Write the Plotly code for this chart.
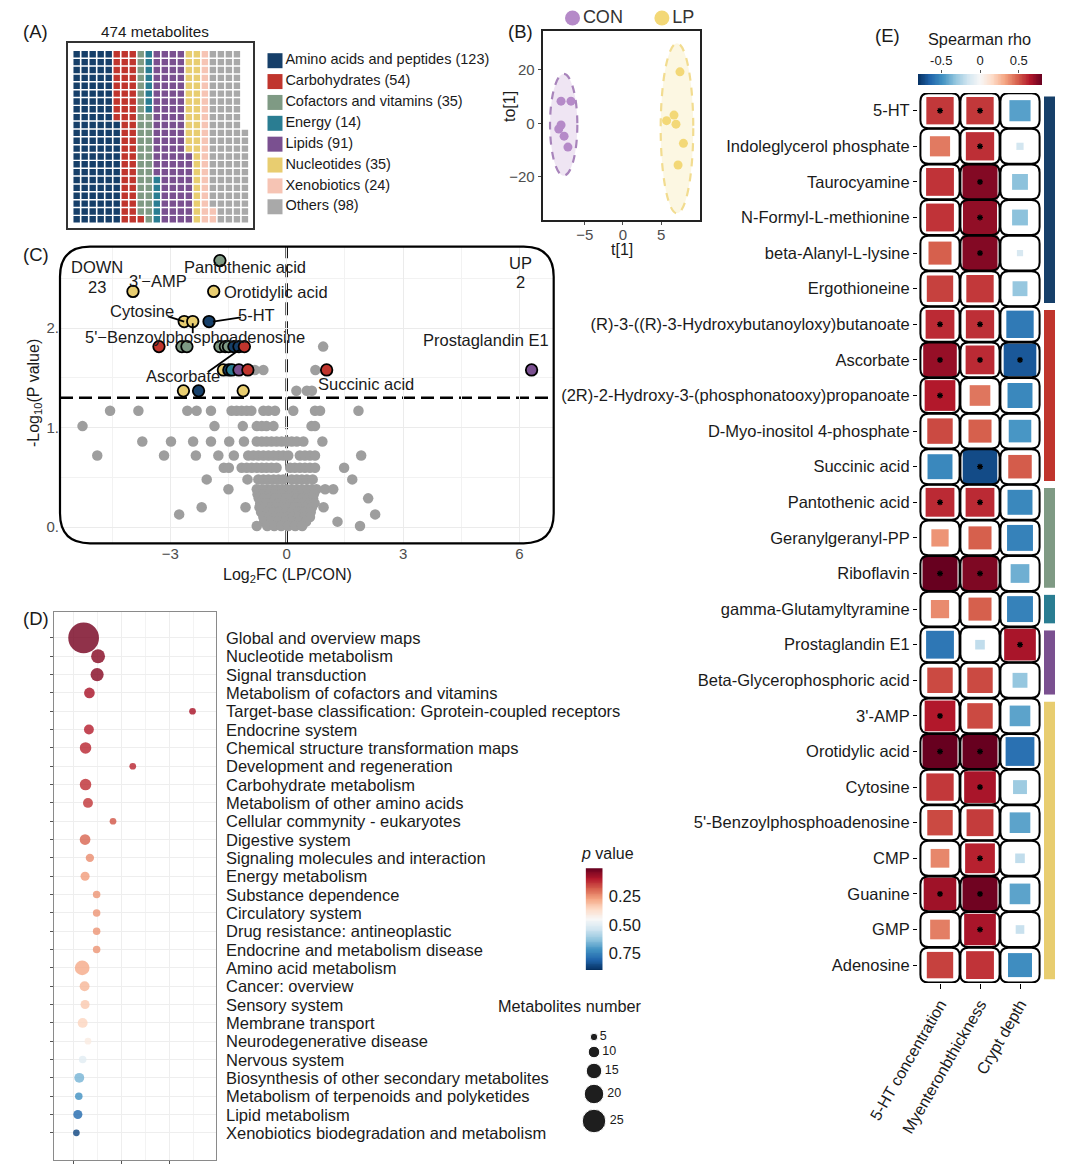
import numpy as np
import plotly.graph_objects as go

W, H = 1080, 1169
FONT = "Liberation Sans, Arial, Helvetica, sans-serif"
TXT = "#1a1a1a"
TICK = "#4d4d4d"


def fx(p):
    return p / W


def fy(p):
    return 1 - p / H


# ====================== DATA ======================
# Panel A: metabolite classes (waffle)
waffle_categories = ["Amino acids and peptides", "Carbohydrates", "Cofactors and vitamins", "Energy",
                     "Lipids", "Nucleotides", "Xenobiotics", "Others"]
waffle_counts = [123, 54, 35, 14, 91, 35, 24, 98]
waffle_colors = ["#163f69", "#c0352d", "#7f9a84", "#2a7d92", "#7a5090", "#e8cd70", "#f6c4b4", "#a9a9a9"]
waffle_total_label = "474 metabolites"

# Panel B: OPLS-DA scores
con_t = [-8.1, -6.8, -8.1, -8.4, -7.7, -7.2]
con_to = [8.3, 8.3, -0.6, -2.1, -4.8, -8.9]
lp_t = [7.45, 5.7, 6.67, 6.93, 7.9, 7.2]
lp_to = [19.3, 1.0, 3.1, -0.3, -7.5, -15.6]
con_ellipse = [-9.54, -5.97, -19.6, 18.5]   # t min, t max, to min, to max
lp_ellipse = [4.93, 9.19, -33.7, 30.0]

# Panel C: volcano plot
ns_levels = [1.815, 1.58, 1.37, 1.17, 1.015, 0.86, 0.72, 0.596, 0.479, 0.38, 0.33, 0.288, 0.24,
             0.198, 0.15, 0.127, 0.10, 0.054, 0.01]
ns_fc = [
    [0.94],
    [-0.82, -0.60, 0.74],
    [0.25, 0.52, 0.65],
    [-4.55, -3.82, -2.56, -2.32, -1.95, -1.42, -1.29, -1.16, -1.03, -0.91, -0.60, -0.47, -0.30, 0.17, 0.73, 0.86, 1.85],
    [-5.26, -1.86, -1.13, -0.77, -0.64, -0.52, -0.34, 0.64, 0.73],
    [-3.72, -2.98, -2.41, -1.95, -1.48, -1.10, -0.77, -0.64, -0.52, -0.39, -0.26, -0.13, 0.0, 0.13, 0.26, 0.43, 0.92],
    [-4.88, -3.16, -2.34, -1.76, -1.36, -0.99, -0.86, -0.73, -0.60, -0.47, -0.34, -0.21, -0.09, 0.04, 0.34, 0.47, 0.60, 0.73, 1.92],
    [-1.62, -1.49, -1.16, -1.03, -0.90, -0.77, -0.64, -0.52, -0.39, -0.26, 0.09, 0.21, 0.34, 0.47, 0.60, 0.73, 1.48],
    [-2.06, -1.01, -0.73, -0.60, -0.47, -0.34, -0.21, -0.09, 0.13, 0.26, 0.39, 0.52, 0.67, 1.69],
    [-1.50, -0.77, -0.64, -0.51, -0.38, -0.25, -0.12, 0.0, 0.13, 0.26, 0.39, 0.52, 0.65, 0.77, 0.99, 1.20],
    [-0.75, -0.60, -0.45, -0.30, -0.15, 0.10, 0.25, 0.40, 0.55, 0.70],
    [-0.72, -0.58, -0.44, -0.30, -0.16, -0.02, 0.12, 0.26, 0.40, 0.54, 0.68, 2.10],
    [-0.68, -0.52, -0.36, -0.20, -0.04, 0.12, 0.28, 0.44, 0.60, 0.72],
    [-2.19, -1.06, -0.70, -0.55, -0.40, -0.25, -0.10, 0.05, 0.20, 0.35, 0.50, 0.65, 0.95],
    [-0.66, -0.50, -0.34, -0.18, -0.02, 0.14, 0.30, 0.46, 0.62],
    [-2.77, 2.28],
    [-0.60, -0.45, -0.30, -0.15, 0.0, 0.15, 0.30, 0.45, 0.60],
    [-0.58, -0.40, -0.22, -0.04, 0.14, 0.32, 0.50, 1.31],
    [-0.77, -0.50, -0.32, -0.14, 0.04, 0.22, 0.40, 1.89],
]
sig_fc = [-1.72, -3.96, -1.88, -2.64, -2.42, -2.00, -3.29, -2.70, -2.57, -1.72, -1.58, -1.50, -1.36, -1.23,
          -1.09, -1.63, -1.49, -1.41, -1.23, -1.00, -2.66, -2.27, -1.12, 1.03, 6.31]
sig_logp = [2.68, 2.37, 2.37, 2.067, 2.067, 2.067, 1.815, 1.815, 1.815, 1.815, 1.815, 1.815, 1.815, 1.815,
            1.815, 1.58, 1.58, 1.58, 1.58, 1.58, 1.37, 1.37, 1.37, 1.58, 1.58]
sig_class = ["Cofactors and vitamins", "Nucleotides", "Nucleotides", "Nucleotides", "Nucleotides",
             "Amino acids and peptides", "Carbohydrates", "Cofactors and vitamins", "Cofactors and vitamins",
             "Cofactors and vitamins", "Cofactors and vitamins", "Cofactors and vitamins",
             "Amino acids and peptides", "Amino acids and peptides", "Carbohydrates", "Nucleotides",
             "Amino acids and peptides", "Energy", "Lipids", "Carbohydrates", "Nucleotides",
             "Amino acids and peptides", "Nucleotides", "Carbohydrates", "Lipids"]
p_threshold = 0.05
n_down, n_up = 23, 2

# Panel D: KEGG enrichment
kegg_pathways = ["Global and overview maps", "Nucleotide metabolism", "Signal transduction",
                 "Metabolism of cofactors and vitamins", "Target-base classification: Gprotein-coupled receptors",
                 "Endocrine system", "Chemical structure transformation maps", "Development and regeneration",
                 "Carbohydrate metabolism", "Metabolism of other amino acids", "Cellular commynity - eukaryotes",
                 "Digestive system", "Signaling molecules and interaction", "Energy metabolism",
                 "Substance dependence", "Circulatory system", "Drug resistance: antineoplastic",
                 "Endocrine and metabolism disease", "Amino acid metabolism", "Cancer: overview",
                 "Sensory system", "Membrane transport", "Neurodegenerative disease", "Nervous system",
                 "Biosynthesis of other secondary metabolites", "Metabolism of terpenoids and polyketides",
                 "Lipid metabolism", "Xenobiotics biodegradation and metabolism"]
kegg_ratio = [0.122, 0.152, 0.150, 0.134, 0.348, 0.133, 0.126, 0.224, 0.126, 0.131, 0.183, 0.125, 0.135, 0.125,
              0.149, 0.149, 0.149, 0.149, 0.119, 0.124, 0.125, 0.120, 0.131, 0.120, 0.113, 0.112, 0.110, 0.107]
kegg_count = [34, 13, 12, 9, 4, 8, 10, 4, 10, 8, 4, 9, 6, 7, 5, 5, 5, 5, 14, 8, 7, 8, 4, 5, 8, 5, 7, 4]
kegg_p = [0.02, 0.04, 0.04, 0.08, 0.08, 0.10, 0.11, 0.11, 0.12, 0.13, 0.17, 0.19, 0.24, 0.26, 0.25, 0.25, 0.25,
          0.25, 0.28, 0.30, 0.33, 0.35, 0.41, 0.50, 0.66, 0.72, 0.80, 0.86]
size_legend_counts = [5, 10, 15, 20, 25]
p_legend_ticks = [0.25, 0.50, 0.75]

# Panel E: Spearman correlation
corr_metabolites = ["5-HT", "Indoleglycerol phosphate", "Taurocyamine", "N-Formyl-L-methionine",
                    "beta-Alanyl-L-lysine", "Ergothioneine", "(R)-3-((R)-3-Hydroxybutanoyloxy)butanoate",
                    "Ascorbate", "(2R)-2-Hydroxy-3-(phosphonatooxy)propanoate", "D-Myo-inositol 4-phosphate",
                    "Succinic acid", "Pantothenic acid", "Geranylgeranyl-PP", "Riboflavin",
                    "gamma-Glutamyltyramine", "Prostaglandin E1", "Beta-Glycerophosphoric acid", "3'-AMP",
                    "Orotidylic acid", "Cytosine", "5'-Benzoylphosphoadenosine", "CMP", "Guanine", "GMP",
                    "Adenosine"]
corr_class = ["Amino acids and peptides"] * 6 + ["Carbohydrates"] * 5 + ["Cofactors and vitamins"] * 3 + \
             ["Energy"] + ["Lipids"] * 2 + ["Nucleotides"] * 8
corr_traits = ["5-HT concentration", "Myenteronbthickness", "Crypt depth"]
rho_5ht = [0.57, 0.42, 0.58, 0.58, 0.48, 0.55, 0.60, 0.70, 0.64, 0.53, -0.52, 0.60, 0.36, 0.80, 0.38,
           -0.58, 0.53, 0.64, 0.80, 0.57, 0.53, 0.39, 0.68, 0.41, 0.55]
rho_myent = [0.57, 0.59, 0.74, 0.71, 0.74, 0.57, 0.59, 0.60, 0.43, 0.48, -0.72, 0.60, 0.48, 0.75, 0.48,
             -0.20, 0.53, 0.53, 0.80, 0.66, 0.56, 0.62, 0.78, 0.66, 0.58]
rho_crypt = [-0.44, -0.15, -0.33, -0.33, -0.13, -0.31, -0.57, -0.68, -0.52, -0.47, 0.49, -0.52, -0.54, -0.39,
             -0.54, 0.66, -0.31, -0.43, -0.60, -0.29, -0.43, -0.20, -0.43, -0.18, -0.50]
sig_5ht = [1, 0, 0, 0, 0, 0, 1, 1, 1, 0, 0, 1, 0, 1, 0, 0, 0, 1, 1, 0, 0, 0, 1, 0, 0]
sig_myent = [1, 1, 1, 1, 1, 0, 1, 1, 0, 0, 1, 1, 0, 1, 0, 0, 0, 0, 1, 1, 0, 1, 1, 1, 0]
sig_crypt = [0, 0, 0, 0, 0, 0, 0, 1, 0, 0, 0, 0, 0, 0, 0, 1, 0, 0, 0, 0, 0, 0, 0, 0, 0]
rho_ticks = [-0.5, 0, 0.5]

# ====================== STYLE ======================
RDBU = ["#053061", "#2166ac", "#4393c3", "#92c5de", "#d1e5f0", "#f7f7f7",
        "#fddbc7", "#f4a582", "#d6604d", "#b2182b", "#67001f"]
CSCALE = [[i / 10, c] for i, c in enumerate(RDBU)]            # low = blue, high = red
CSCALE_P = [[i / 10, c] for i, c in enumerate(RDBU[::-1])]    # low p = red
class_color = dict(zip(waffle_categories, waffle_colors))

fig = go.Figure()
shapes = []
annotations = []


def ann(text, x, y, size=16.5, color=TXT, xanchor="center", yanchor="middle", xref="paper", yref="paper", **kw):
    annotations.append(dict(text=text, x=x, y=y, xref=xref, yref=yref, showarrow=False,
                            xanchor=xanchor, yanchor=yanchor, font=dict(family=FONT, size=size, color=color), **kw))


def rounded(x0, x1, y0, y1, rx, ry):
    return (f"M {x0 + rx},{y0} L {x1 - rx},{y0} Q {x1},{y0} {x1},{y0 + ry} "
            f"L {x1},{y1 - ry} Q {x1},{y1} {x1 - rx},{y1} L {x0 + rx},{y1} "
            f"Q {x0},{y1} {x0},{y1 - ry} L {x0},{y0 + ry} Q {x0},{y0} {x0 + rx},{y0} Z")


axis_common = dict(showgrid=False, zeroline=False, showticklabels=False, ticks="", fixedrange=True,
                   automargin=False)

# ---------------- Panel A ----------------
ROWS = 22
start = 0
for cat, n, col in zip(waffle_categories, waffle_counts, waffle_colors):
    idx = np.arange(start, start + n)
    start += n
    fig.add_trace(go.Scatter(x=idx // ROWS, y=idx % ROWS, mode="markers", xaxis="x", yaxis="y",
                             marker=dict(symbol="square", size=6.4, color=col, line=dict(width=0)),
                             showlegend=False, hoverinfo="skip"))
fig.update_layout(
    xaxis=dict(domain=[fx(67.7), fx(252.7)], range=[-1.12, 21.97], showline=True, mirror=True,
               linecolor="#333", linewidth=1.5, **axis_common),
    yaxis=dict(domain=[fy(228.3), fy(43.3)], range=[-1.145, 22.4], showline=True, mirror=True,
               linecolor="#333", linewidth=1.5, anchor="x", **axis_common),
)
ann(waffle_total_label, fx(155), fy(32), size=15.3)
leg_idx = list(range(len(waffle_categories)))
fig.add_trace(go.Scatter(x=[0] * len(leg_idx), y=leg_idx, mode="markers+text", xaxis="x6", yaxis="y6",
                         marker=dict(symbol="square", size=15, color=waffle_colors),
                         text=[f"{c} ({n})" for c, n in zip(waffle_categories, waffle_counts)],
                         textposition="middle right", textfont=dict(family=FONT, size=14.5, color=TXT),
                         showlegend=False, hoverinfo="skip", cliponaxis=False))
fig.update_layout(
    xaxis6=dict(domain=[fx(262), fx(520)], range=[-13, 245], anchor="y6", **axis_common),
    yaxis6=dict(domain=[fy(217), fy(50)], range=[7.49, -0.513], anchor="x6", **axis_common),
)

# ---------------- Panel B ----------------
CON_C, LP_C = "#b58ac8", "#f3d877"
for e, fill, line in [(con_ellipse, "rgba(181,138,200,0.22)", "#a884bb"),
                      (lp_ellipse, "rgba(245,222,140,0.25)", "#f2dc90")]:
    shapes.append(dict(type="circle", xref="x2", yref="y2", x0=e[0], x1=e[1], y0=e[2], y1=e[3],
                       fillcolor=fill, line=dict(color=line, width=2.2, dash="8px,7px"), layer="below"))
fig.add_trace(go.Scatter(x=con_t, y=con_to, mode="markers", xaxis="x2", yaxis="y2",
                         marker=dict(size=9, color=CON_C), showlegend=False, hoverinfo="skip"))
fig.add_trace(go.Scatter(x=lp_t, y=lp_to, mode="markers", xaxis="x2", yaxis="y2",
                         marker=dict(size=9, color=LP_C), showlegend=False, hoverinfo="skip"))
bax = dict(showgrid=False, zeroline=False, showline=True, mirror=True, linecolor="#222", linewidth=2,
           ticks="outside", ticklen=3, tickcolor=TICK, tickfont=dict(family=FONT, size=15, color=TICK),
           fixedrange=True, automargin=False)
fig.update_layout(
    xaxis2=dict(domain=[fx(542.7), fx(700)], range=[-10.5, 10.07], tickvals=[-5, 0, 5], anchor="y2",
                ticklabelstandoff=-3, **bax),
    yaxis2=dict(domain=[fy(220), fy(30.7)], range=[-36.2, 34.7], tickvals=[-20, 0, 20], anchor="x2", **bax),
)
ann("t[1]", fx(621.7), fy(250), size=16)
ann("to[1]", fx(510), fy(107), size=16, textangle=-90)
fig.add_trace(go.Scatter(x=[0, 1], y=[0, 0], mode="markers+text", xaxis="x7", yaxis="y7",
                         marker=dict(size=15, color=[CON_C, LP_C]), text=["CON", "LP"],
                         textposition="middle right", textfont=dict(family=FONT, size=18, color="#333"),
                         showlegend=False, hoverinfo="skip", cliponaxis=False))
fig.update_layout(
    xaxis7=dict(domain=[fx(560), fx(720)], range=[-0.14, 1.65], anchor="y7", **axis_common),
    yaxis7=dict(domain=[fy(28), fy(8)], range=[-1, 1], anchor="x7", **axis_common),
)

# ---------------- Panel C ----------------
gx = [x for lvl, xs in zip(ns_levels, ns_fc) for x in xs]
gy = [lvl for lvl, xs in zip(ns_levels, ns_fc) for x in xs]
fig.add_trace(go.Scatter(x=gx, y=gy, mode="markers", xaxis="x3", yaxis="y3",
                         marker=dict(size=10.5, color="#9e9e9e", line=dict(width=0)),
                         showlegend=False, hoverinfo="skip"))
thr = -np.log10(p_threshold)
shapes.append(dict(type="line", xref="x3", yref="y3", x0=-5.84, x1=6.88, y0=thr, y1=thr,
                   line=dict(color="black", width=2.5, dash="13px,6px"), layer="below"))
shapes.append(dict(type="line", xref="x3", yref="y3", x0=0, x1=0, y0=-0.164, y1=2.82,
                   line=dict(color="black", width=2.5, dash="13px,6px"), layer="below"))
fig.add_trace(go.Scatter(x=sig_fc, y=sig_logp, mode="markers", xaxis="x3", yaxis="y3",
                         marker=dict(size=11.5, color=[class_color[c] for c in sig_class],
                                     line=dict(width=1.8, color="black")),
                         showlegend=False, hoverinfo="skip"))
cax = dict(showgrid=True, gridcolor="#ebebeb", gridwidth=1.2, zeroline=False, showline=False,
           tickfont=dict(family=FONT, size=15, color=TICK), fixedrange=True, automargin=False)
fig.update_layout(
    xaxis3=dict(domain=[fx(60), fx(553.7)], range=[-5.84, 6.88], tickvals=[-3, 0, 3, 6], ticks="",
                minor=dict(tickvals=[-4.5, -1.5, 1.5, 4.5], showgrid=True, gridcolor="#f2f2f2", gridwidth=1),
                anchor="y3", **cax),
    yaxis3=dict(domain=[fy(543.3), fy(246.7)], range=[-0.164, 2.82], tickvals=[0, 1, 2],
                ticktext=["0.", "1.", "2."], ticks="", ticklabelstandoff=0,
                minor=dict(tickvals=[0.5, 1.5, 2.5], showgrid=True, gridcolor="#f2f2f2", gridwidth=1),
                anchor="x3", **cax),
)
x0, x1, y0, y1 = fx(60), fx(553.7), fy(543.3), fy(246.7)
shapes.append(dict(type="path", xref="paper", yref="paper", path=rounded(x0, x1, y0, y1, 30 / W, 30 / H),
                   line=dict(color="black", width=2.2), fillcolor="rgba(0,0,0,0)", layer="above"))
ann("-Log<sub>10</sub>(P value)", fx(34), fy(393), size=16, textangle=-90)
ann("Log<sub>2</sub>FC (LP/CON)", fx(287), fy(575), size=16)
ann("DOWN", -4.88, 2.62, xref="x3", yref="y3")
ann(str(n_down), -4.88, 2.41, xref="x3", yref="y3")
ann("UP", 6.03, 2.66, xref="x3", yref="y3")
ann(str(n_up), 6.03, 2.46, xref="x3", yref="y3")
ann("Pantothenic acid", -1.07, 2.62, xref="x3", yref="y3")
ann("3'\u2212AMP", -3.32, 2.47, xref="x3", yref="y3")
ann("Orotidylic acid", -1.66, 2.36, xref="x3", yref="y3", xanchor="left")
ann("Cytosine", -3.73, 2.17, xref="x3", yref="y3")
ann("5-HT", -0.78, 2.13, xref="x3", yref="y3")
ann("5'\u2212Benzoylphosphoadenosine", -2.35, 1.91, xref="x3", yref="y3")
ann("Ascorbate", -2.67, 1.52, xref="x3", yref="y3")
ann("Succinic acid", 2.04, 1.44, xref="x3", yref="y3")
ann("Prostaglandin E1", 5.13, 1.88, xref="x3", yref="y3")
for (ax0, ay0, ax1, ay1) in [(-3.06, 2.12, -2.64, 2.067), (-1.90, 2.067, -1.18, 2.11),
                             (-2.42, 2.05, -2.42, 1.95), (-2.03, 1.56, -1.23, 1.78)]:
    shapes.append(dict(type="line", xref="x3", yref="y3", x0=ax0, y0=ay0, x1=ax1, y1=ay1,
                       line=dict(color="black", width=1.8)))

# ---------------- Panel D ----------------
kegg_rows = list(range(len(kegg_pathways)))
kegg_sizes = [3.5 + 0.8 * n for n in kegg_count]
fig.add_trace(go.Scatter(
    x=kegg_ratio, y=kegg_rows, mode="markers", xaxis="x4", yaxis="y4",
    marker=dict(size=kegg_sizes, color=kegg_p, colorscale=CSCALE_P, cmin=0, cmax=0.9, showscale=False,
                opacity=0.82, line=dict(width=0)),
    showlegend=False, hoverinfo="skip"))
fig.update_layout(
    xaxis4=dict(domain=[fx(53.5), fx(216)], range=[0.0595, 0.3967], tickvals=[0.1, 0.2, 0.3],
                showticklabels=False, ticks="outside", ticklen=3, tickcolor="#555",
                showgrid=True, gridcolor="#eeeeee", gridwidth=1,
                minor=dict(tickvals=[0.15, 0.25, 0.35], showgrid=True, gridcolor="#f3f3f3"),
                showline=True, mirror=True, linecolor="#8a8a8a", linewidth=1, zeroline=False,
                anchor="y4", fixedrange=True, automargin=False),
    yaxis4=dict(domain=[fy(1160), fy(611.7)], range=[28.48, -1.43], tickvals=kegg_rows,
                showticklabels=False, ticks="outside", ticklen=3, tickcolor="#555",
                showgrid=True, gridcolor="#eeeeee", gridwidth=1,
                showline=True, mirror=True, linecolor="#8a8a8a", linewidth=1, zeroline=False,
                anchor="x4", fixedrange=True, automargin=False),
)
for i, name in enumerate(kegg_pathways):
    ann(name, fx(224), i, size=16.5, xanchor="left", yref="y4")
pgrad = np.linspace(0, 0.9, 121)
fig.add_trace(go.Heatmap(z=[[v] for v in pgrad], y=pgrad, x=[0], xaxis="x10", yaxis="y10",
                         colorscale=CSCALE_P, zmin=0, zmax=0.9, showscale=False, hoverinfo="skip"))
fig.update_layout(
    xaxis10=dict(domain=[fx(585.6), fx(602.8)], range=[-0.5, 0.5], anchor="y10", **axis_common),
    yaxis10=dict(domain=[fy(970), fy(868)], range=[0.904, -0.006], side="right", anchor="x10",
                 tickvals=p_legend_ticks, ticktext=[f"{t:.2f}" for t in p_legend_ticks], ticks="",
                 ticklabelstandoff=5, tickfont=dict(family=FONT, size=16.5, color=TXT), showgrid=False,
                 zeroline=False, fixedrange=True, automargin=False),
)
ann("<i>p</i> value", fx(607), fy(853), size=16)
leg_d = [3.5 + 0.8 * n for n in size_legend_counts]
leg_y = [0.0]
for a, b in zip(leg_d[:-1], leg_d[1:]):
    leg_y.append(leg_y[-1] + (a + b) / 2 + 5.5)
fig.add_trace(go.Scatter(x=[0] * len(size_legend_counts), y=leg_y,
                         mode="markers+text", xaxis="x8", yaxis="y8",
                         marker=dict(size=leg_d, color="#1e1e1e", opacity=1),
                         text=[str(n) for n in size_legend_counts], textposition="middle right",
                         textfont=dict(family=FONT, size=12.5, color=TXT),
                         showlegend=False, hoverinfo="skip", cliponaxis=False))
fig.update_layout(
    xaxis8=dict(domain=[fx(584), fx(604)], range=[-10, 10], anchor="y8", **axis_common),
    yaxis8=dict(domain=[fy(1137), fy(1027)], range=[100, -10], anchor="x8", **axis_common),
)
ann("Metabolites number", fx(570), fy(1006), size=16.3)

# ---------------- Panel E ----------------
nrow = len(corr_metabolites)
rho_cols = [rho_5ht, rho_myent, rho_crypt]
sig_cols = [sig_5ht, sig_myent, sig_crypt]
ex, ey, ec, es = [], [], [], []
sx, sy = [], []
for j, (rc, sc) in enumerate(zip(rho_cols, sig_cols)):
    for i in range(nrow):
        ex.append(j)
        ey.append(i)
        ec.append(rc[i])
        es.append(min(35, 48 * abs(rc[i])))
        if sc[i]:
            sx.append(j)
            sy.append(i)
        shapes.append(dict(type="path", xref="x5", yref="y5",
                           path=rounded(j - 0.49, j + 0.49, i - 0.49, i + 0.49, 0.2, 0.225),
                           line=dict(color="black", width=2), fillcolor="rgba(0,0,0,0)", layer="above"))
fig.add_trace(go.Scatter(x=ex, y=ey, mode="markers", xaxis="x5", yaxis="y5",
                         marker=dict(symbol="square", size=es, color=ec, colorscale=CSCALE, cmin=-0.8, cmax=0.8,
                                     showscale=False, opacity=1, line=dict(width=0)),
                         showlegend=False, hoverinfo="skip"))
fig.add_trace(go.Scatter(x=sx, y=sy, mode="markers", xaxis="x5", yaxis="y5",
                         marker=dict(symbol="asterisk-open", size=5, color="black",
                                     line=dict(color="black", width=1.3)),
                         showlegend=False, hoverinfo="skip"))
classes_order = []
for c in corr_class:
    if c not in classes_order:
        classes_order.append(c)
for c in classes_order:
    rows = [i for i, cc in enumerate(corr_class) if cc == c]
    shapes.append(dict(type="rect", xref="x5", yref="y5", x0=2.6, x1=2.875,
                       y0=min(rows) - 0.4, y1=max(rows) + 0.4, fillcolor=class_color[c], line=dict(width=0)))
fig.update_layout(
    xaxis5=dict(domain=[fx(918), fx(1058)], range=[-0.55, 2.95], tickvals=[0, 1, 2], ticktext=corr_traits,
                tickangle=-60, ticks="outside", ticklen=5, tickcolor="black",
                tickfont=dict(family=FONT, size=16, color=TXT), showgrid=False, zeroline=False,
                showline=False, anchor="y5", fixedrange=True, automargin=False),
    yaxis5=dict(domain=[fy(982.9), fy(92.9)], range=[24.5, -0.5], tickvals=list(range(nrow)),
                ticktext=corr_metabolites, ticks="outside", ticklen=4, tickcolor="black",
                tickfont=dict(family=FONT, size=16.5, color=TXT), showgrid=False, zeroline=False,
                showline=False, anchor="x5", fixedrange=True, automargin=False),
)
grad = np.linspace(-0.8, 0.8, 161)
fig.add_trace(go.Heatmap(z=[grad], x=grad, y=[0], xaxis="x9", yaxis="y9", colorscale=CSCALE,
                         zmin=-0.8, zmax=0.8, showscale=False, hoverinfo="skip"))
fig.update_layout(
    xaxis9=dict(domain=[fx(918), fx(1042)], range=[-0.8, 0.8], side="top", tickvals=rho_ticks,
                ticktext=["-0.5", "0", "0.5"], ticks="outside", ticklen=3, tickcolor="#555",
                tickfont=dict(family=FONT, size=13, color=TXT), showgrid=False, zeroline=False,
                anchor="y9", fixedrange=True, automargin=False),
    yaxis9=dict(domain=[fy(85), fy(74)], range=[-0.5, 0.5], anchor="x9", **axis_common),
)
ann("Spearman rho", fx(979), fy(39), size=16.3)

for lab, x, y in [("(A)", 35, 31), ("(B)", 520, 32), ("(C)", 36, 255), ("(D)", 36, 618), ("(E)", 887, 35)]:
    ann(lab, fx(x), fy(y), size=18.5)

fig.update_layout(
    width=W, height=H, margin=dict(l=0, r=0, t=0, b=0, pad=0, autoexpand=False),
    paper_bgcolor="white", plot_bgcolor="white", showlegend=False,
    font=dict(family=FONT, size=14, color=TXT),
    shapes=shapes, annotations=annotations,
)
fig.write_html("out.html", config={"displayModeBar": False},
               post_script="document.body.style.margin='0px';")
